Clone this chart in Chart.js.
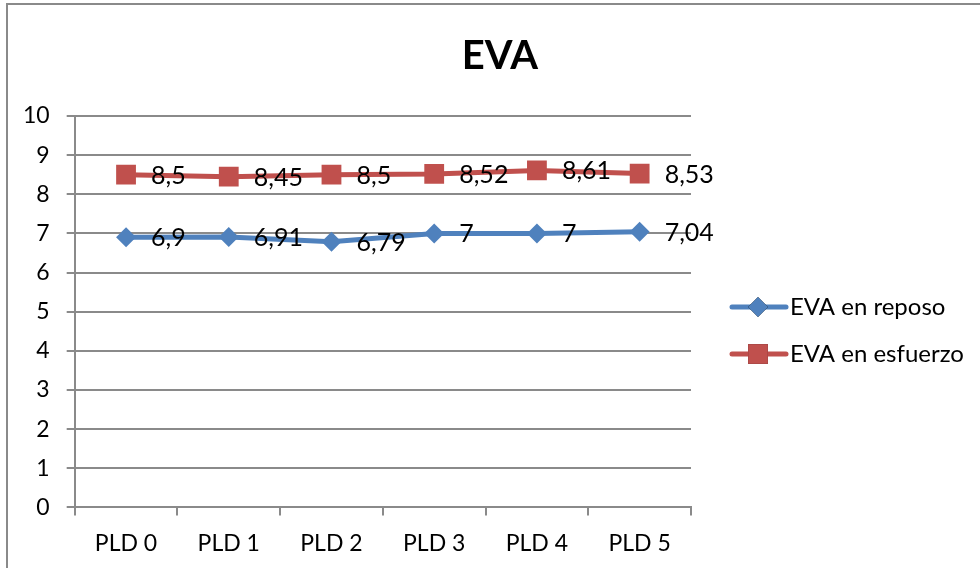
<!DOCTYPE html>
<html>
<head>
<meta charset="utf-8">
<title>EVA</title>
<script src="https://cdn.jsdelivr.net/npm/chart.js@4/dist/chart.umd.min.js"></script>
<style>
  html, body { margin: 0; padding: 0; background: #fff; }
  #wrap { position: relative; width: 980px; height: 568px; overflow: hidden; }
  #frame {
    position: absolute; left: 6px; top: 3px; width: 1000px; height: 600px;
    border: 2px solid #8a8a8a; pointer-events: none;
  }
  canvas { position: absolute; left: 0; top: 0; }
</style>
</head>
<body>
<div id="wrap">
  <div id="frame"></div>
  <canvas id="chart" width="980" height="568"></canvas>
</div>
<script>
// ====== Data ======
const categories = ['PLD 0', 'PLD 1', 'PLD 2', 'PLD 3', 'PLD 4', 'PLD 5'];
const evaReposo = [6.9, 6.91, 6.79, 7, 7, 7.04];
const evaEsfuerzo = [8.5, 8.45, 8.5, 8.52, 8.61, 8.53];
const seriesNames = ['EVA en reposo', 'EVA en esfuerzo'];
const chartTitle = 'EVA';

// ====== Styles ======
const FONT = 'Lato, "Open Sans", sans-serif';
const BLUE = '#4F81BD';
const RED = '#C0504D';
const GRID = '#8a8a8a';

function formatComma(v) {
    return String(v).replace('.', ',');
}

// Value labels to the right of each point
const valueLabels = {
    id: 'valueLabels',
    afterDatasetsDraw(chart) {
        const ctx = chart.ctx;
        ctx.save();
        ctx.font = '25px ' + FONT;
        ctx.fillStyle = '#000';
        ctx.textAlign = 'left';
        ctx.textBaseline = 'middle';
        chart.data.datasets.forEach((ds, i) => {
            const meta = chart.getDatasetMeta(i);
            meta.data.forEach((pt, j) => {
                ctx.fillText(formatComma(ds.data[j]), pt.x + 25, pt.y + 1);
            });
        });
        ctx.restore();
    }
};

// Title and line-style legend
const titleAndLegend = {
    id: 'titleAndLegend',
    afterDraw(chart) {
        const ctx = chart.ctx;
        ctx.save();
        ctx.fillStyle = '#000';
        ctx.textAlign = 'center';
        ctx.textBaseline = 'middle';
        ctx.font = 'bold 40px ' + FONT;
        ctx.fillText(chartTitle, 500, 56);

        const rows = [307, 354];
        chart.data.datasets.forEach((ds, i) => {
            const y = rows[i];
            ctx.strokeStyle = ds.borderColor;
            ctx.lineWidth = ds.borderWidth;
            ctx.lineCap = 'round';
            ctx.beginPath();
            ctx.moveTo(732, y);
            ctx.lineTo(786, y);
            ctx.stroke();
            Chart.helpers.drawPoint(ctx, {
                pointStyle: ds.pointStyle,
                radius: ds.pointRadius,
                rotation: 0,
                borderWidth: 0
            }, 758, y);
            ctx.fillStyle = ds.backgroundColor;
            ctx.fill();
            ctx.fillStyle = '#000';
            ctx.textAlign = 'left';
            ctx.font = '24px ' + FONT;
            ctx.fillText(ds.label, 790, y);
        });
        ctx.restore();
    }
};

new Chart(document.getElementById('chart'), {
    type: 'line',
    data: {
        labels: categories,
        datasets: [
            {
                label: seriesNames[0],
                data: evaReposo,
                borderColor: BLUE,
                backgroundColor: BLUE,
                borderWidth: 5,
                pointStyle: 'rectRot',
                pointRadius: 10,
                pointBorderWidth: 0,
                tension: 0
            },
            {
                label: seriesNames[1],
                data: evaEsfuerzo,
                borderColor: RED,
                backgroundColor: RED,
                borderWidth: 5,
                pointStyle: 'rect',
                pointRadius: 14,
                pointBorderWidth: 0,
                tension: 0
            }
        ]
    },
    options: {
        responsive: false,
        animation: false,
        devicePixelRatio: 1,
        layout: { padding: { left: 6, top: 116, right: 289, bottom: -3 } },
        plugins: {
            legend: { display: false },
            title: { display: false },
            tooltip: { enabled: false }
        },
        scales: {
            x: {
                offset: true,
                grid: {
                    offset: true,
                    drawOnChartArea: false,
                    tickLength: 8,
                    color: GRID,
                    lineWidth: 2
                },
                border: { color: GRID, width: 2 },
                ticks: {
                    padding: 14,
                    color: '#000',
                    font: { family: FONT, size: 23 }
                }
            },
            y: {
                min: 0,
                max: 10,
                grid: { color: GRID, lineWidth: 2, tickLength: 8 },
                border: { color: GRID, width: 2 },
                ticks: {
                    stepSize: 1,
                    padding: 17,
                    color: '#000',
                    font: { family: FONT, size: 23 }
                }
            }
        }
    },
    plugins: [valueLabels, titleAndLegend]
});
</script>
</body>
</html>
